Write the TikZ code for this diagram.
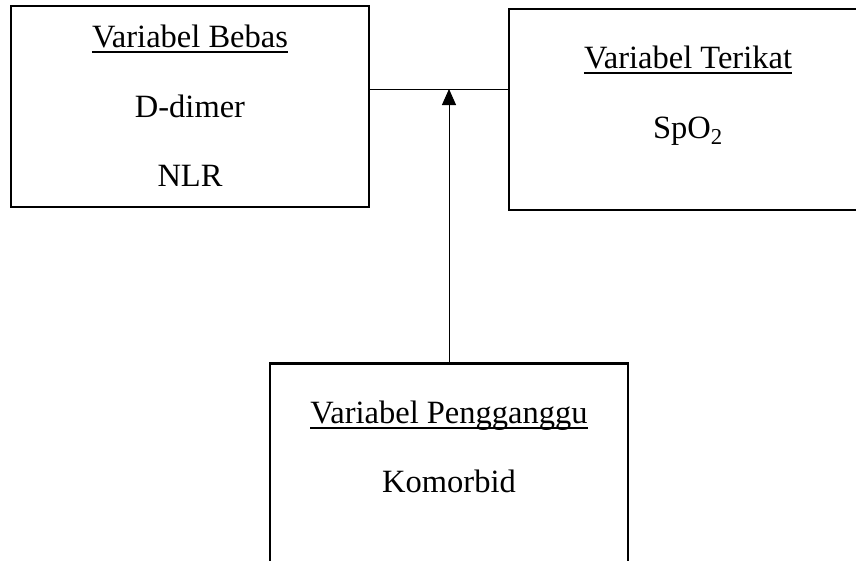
\documentclass[tikz,border=0pt]{standalone}
\usepackage{fontspec}
\setmainfont{Liberation Serif}
\usepackage{tikz}
\usetikzlibrary{arrows.meta}
\tikzstyle{varbox} = [draw, rectangle, line width=2.4pt, inner sep=0pt, minimum width=358pt, minimum height=201pt]
\tikzstyle{lbl} = [inner sep=0pt, anchor=base, font=\fontsize{32.5}{39}\selectfont]
\tikzstyle{uline} = [line width=2pt]

\begin{document}
\begin{tikzpicture}[x=1pt,y=-1pt]
  \useasboundingbox (0,0) rectangle (856,560);
  % kotak variabel
  \node[varbox] (bebas) at (190,106.5) {};
  \node[varbox] (terikat) at (688,109.5) {};
  \node[varbox] (ganggu) at (449,464) {};
  % teks
  \node[lbl] (tbebas) at (190,47) {Variabel Bebas};
  \node[lbl] (ddimer) at (190,117) {D-dimer};
  \node[lbl] (nlr) at (190,186) {NLR};
  \node[lbl] (tterikat) at (688,68) {Variabel Terikat};
  \node[lbl] (spo) at (688,138) {SpO\textsubscript{2}};
  \node[lbl] (tganggu) at (449,423) {Variabel Pengganggu};
  \node[lbl] (komorbid) at (449,492) {Komorbid};
  \draw[uline] ([yshift=-5pt]tbebas.base west) -- ([yshift=-5pt]tbebas.base east);
  \draw[uline] ([yshift=-5pt]tterikat.base west) -- ([yshift=-5pt]tterikat.base east);
  \draw[uline] ([yshift=-5pt]tganggu.base west) -- ([yshift=-5pt]tganggu.base east);
  % hubungan
  \coordinate (temu) at (449,89);
  \draw[line width=1pt] (bebas.east |- temu) -- (terikat.west |- temu);
  \draw[line width=1pt, -{Triangle[length=16pt,width=14pt]}] (ganggu.north) -- (temu);
\end{tikzpicture}
\end{document}
